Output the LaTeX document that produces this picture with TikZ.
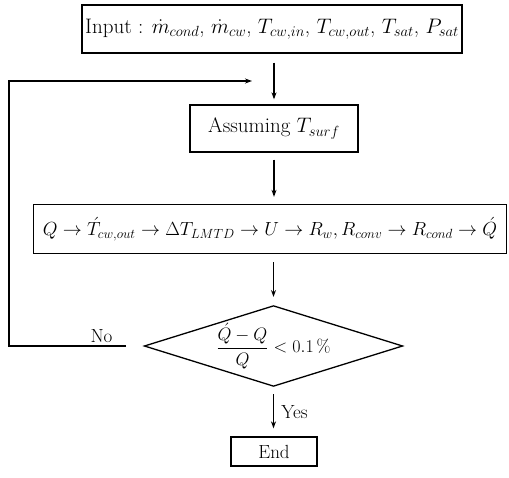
\RequirePackage{fix-cm}
\documentclass[tikz,border=0pt]{standalone}
\usepackage{amsmath}
\usetikzlibrary{shapes.geometric,arrows.meta}
\tikzset{
  bigfont/.style={font=\fontsize{19}{22}\selectfont},
  wordfont/.style={font=\fontsize{21}{24}\selectfont},
  mathfont/.style={font=\fontsize{19}{22}\selectfont},
  procbox/.style={draw,line width=1.3pt,minimum width=#1,inner sep=0pt,bigfont},
  flowarrow/.style={line width=1.2pt,-{Stealth[length=7pt,width=5pt]}},
}
\begin{document}
\begin{tikzpicture}[x=1pt,y=-1pt]
        \useasboundingbox (0,0) rectangle (509,477);
        \node[procbox=380pt,minimum height=48pt,wordfont] (input) at (272,29) {Input : $\dot{m}_{cond}$, $\dot{m}_{cw}$, $T_{cw,in}$, $T_{cw,out}$, $T_{sat}$, $P_{sat}$};
        \node[procbox=168pt,minimum height=47pt,wordfont] (assume) at (274,128.5) {Assuming $T_{surf}$};
        \node[procbox=473pt,minimum height=49pt,mathfont] (calc) at (270,229) {$Q \rightarrow \acute{T}_{cw,out} \rightarrow \Delta T_{LMTD} \rightarrow U \rightarrow R_{w}, R_{conv} \rightarrow R_{cond} \rightarrow \acute{Q}$};
        \node[draw,line width=1.3pt,shape=diamond,aspect=3.2,inner sep=0pt,minimum width=255pt,minimum height=79pt,font=\fontsize{18}{21}\selectfont] (check) at (273.5,346) {$\dfrac{\acute{Q}-Q}{Q} < 0.1\,\%$};
        \node[procbox=86pt,minimum height=29pt] (stop) at (274,451.5) {End};
        \coordinate (noend) at (126,346);
        \coordinate (loopbl) at (9,346);
        \coordinate (looptl) at (9,81);
        \coordinate (loopin) at (252,81);
        \draw[flowarrow,shorten <=9pt,shorten >=5pt] (input.south -| assume.north) -- (assume.north);
        \draw[flowarrow,shorten <=7pt,shorten >=7pt] (assume.south) -- (assume.south |- calc.north);
        \draw[flowarrow,shorten <=8pt,shorten >=8pt] (check.north |- calc.south) -- (check.north);
        \draw[flowarrow,shorten <=7pt,shorten >=8pt] (check.south) -- (check.south |- stop.north) node[midway,right,xshift=4pt,bigfont] (yes) {Yes};
        \draw[flowarrow] (noend) -- (loopbl) -- (looptl) -- (loopin);
        \node[above left,xshift=-10pt,bigfont] (no) at (noend) {No};
\end{tikzpicture}
\end{document}
